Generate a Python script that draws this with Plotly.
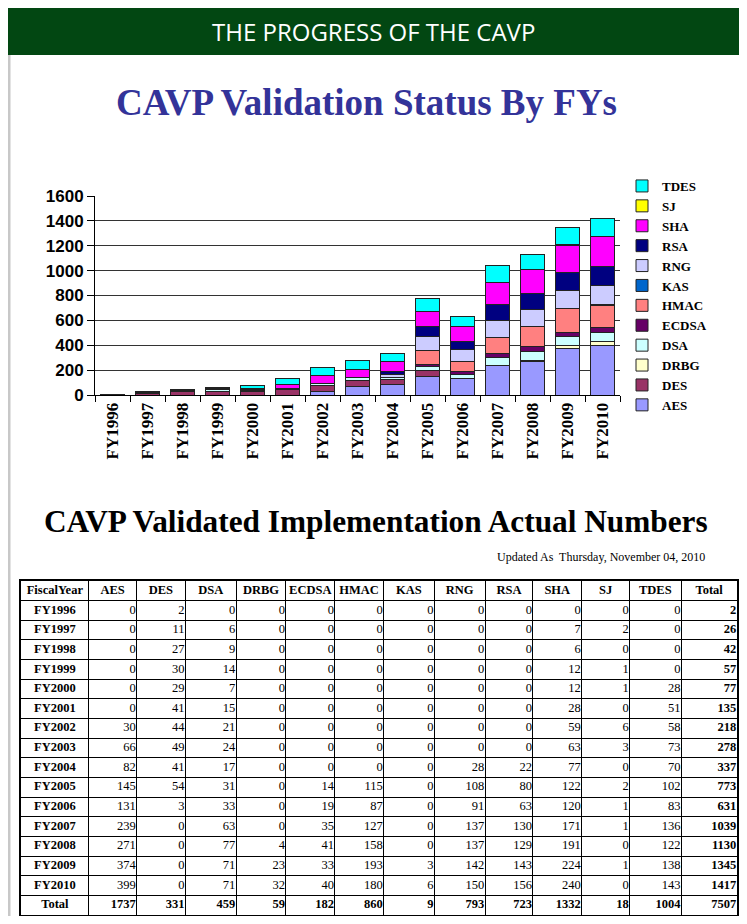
import plotly.graph_objects as go

# page is rendered with an 8px body margin -> figure fills the rest of the 747x924 window
M = 8
FW, FH = 747 - 2 * M, 924 - 2 * M
def px(x): return (x - M) / FW          # page pixel -> paper x
def py(y): return 1 - (y - M) / FH      # page pixel -> paper y
def clamp(v): return min(1.0, max(0.0, v))

years = ["FY1996","FY1997","FY1998","FY1999","FY2000","FY2001","FY2002","FY2003",
         "FY2004","FY2005","FY2006","FY2007","FY2008","FY2009","FY2010"]
AES   = [0,0,0,0,0,0,30,66,82,145,131,239,271,374,399]
DES   = [2,11,27,30,29,41,44,49,41,54,3,0,0,0,0]
DSA   = [0,6,9,14,7,15,21,24,17,31,33,63,77,71,71]
DRBG  = [0,0,0,0,0,0,0,0,0,0,0,0,4,23,32]
ECDSA = [0,0,0,0,0,0,0,0,0,14,19,35,41,33,40]
HMAC  = [0,0,0,0,0,0,0,0,0,115,87,127,158,193,180]
KAS   = [0,0,0,0,0,0,0,0,0,0,0,0,0,3,6]
RNG   = [0,0,0,0,0,0,0,0,28,108,91,137,137,142,150]
RSA   = [0,0,0,0,0,0,0,0,22,80,63,130,129,143,156]
SHA   = [0,7,6,12,12,28,59,63,77,122,120,171,191,224,240]
SJ    = [0,2,0,1,1,0,6,3,0,2,1,1,0,1,0]
TDES  = [0,0,0,0,28,51,58,73,70,102,83,136,122,138,143]
TOTAL = [2,26,42,57,77,135,218,278,337,773,631,1039,1130,1345,1417]
COL_TOTALS = [1737,331,459,59,182,860,9,793,723,1332,18,1004,7507]

# stacking order (bottom -> top)
stack_names = ["AES","DES","DRBG","DSA","ECDSA","HMAC","KAS","RNG","RSA","SHA","SJ","TDES"]
stack_vals = [AES,DES,DRBG,DSA,ECDSA,HMAC,KAS,RNG,RSA,SHA,SJ,TDES]
stack_colors = ["#9999FF","#993366","#FFFFCC","#CCFFFF","#660066","#FF8080",
                "#0066CC","#CCCCFF","#000080","#FF00FF","#FFFF00","#00FFFF"]

# table columns
table_cols = ["FiscalYear","AES","DES","DSA","DRBG","ECDSA","HMAC","KAS","RNG","RSA","SHA","SJ","TDES","Total"]
table_series = [AES,DES,DSA,DRBG,ECDSA,HMAC,KAS,RNG,RSA,SHA,SJ,TDES,TOTAL]
col_widths = [68,48,49,51,50,49,49,51,51,48,49,48,52,56]

fig = go.Figure()
for name, vals, col in zip(stack_names, stack_vals, stack_colors):
    fig.add_trace(go.Bar(
        x=years, y=vals, name=name, legendgroup=name,
        marker=dict(color=col, line=dict(color="#222222", width=1)),
        xaxis="x", yaxis="y", hoverinfo="x+y+name"))

# ---- table drawn on its own axes (x2 / y2) ----
edges = [0]
for w in col_widths:
    edges.append(edges[-1] + w)
centers = [(edges[i] + edges[i + 1]) / 2 for i in range(len(col_widths))]
n_rows = len(years) + 2  # header + years + total

def tfont():
    return dict(family="Liberation Serif", size=12.5, color="#000000")

def text_trace(xs, ys, texts, pos):
    return go.Scatter(
        x=xs, y=ys, mode="text", text=texts, textposition=pos,
        textfont=tfont(), marker=dict(size=2, color="#000000", opacity=0),
        xaxis="x2", yaxis="y2", showlegend=False, hoverinfo="skip",
        cliponaxis=False)

# header row
fig.add_trace(text_trace(centers, [0.5] * len(table_cols),
                         ["<b>%s</b>" % c for c in table_cols], "middle center"))
# fiscal year column
row_labels = years + ["Total"]
fig.add_trace(text_trace([centers[0]] * len(row_labels),
                         [i + 1.5 for i in range(len(row_labels))],
                         ["<b>%s</b>" % r for r in row_labels], "middle center"))
# numeric columns
for j, s in enumerate(table_series):
    col_idx = j + 1
    tot = COL_TOTALS[j]
    is_total_col = (col_idx == len(table_cols) - 1)
    texts = [("<b>%d</b>" % v) if is_total_col else str(v) for v in s] + ["<b>%d</b>" % tot]
    fig.add_trace(text_trace([edges[col_idx + 1] - 0.8] * len(texts),
                             [i + 1.5 for i in range(len(texts))],
                             texts, "middle left"))

shapes = [
    dict(type="rect", xref="paper", yref="paper", x0=px(7), x1=px(755), y0=py(55), y1=py(7),
         line=dict(width=0), fillcolor="#024712", layer="below"),
    dict(type="line", xref="paper", yref="paper", x0=px(9), x1=px(9), y0=py(55), y1=py(940),
         line=dict(color="#c8c8c8", width=3), layer="below"),
    dict(type="line", xref="paper", yref="paper", x0=px(742), x1=px(742), y0=py(55), y1=py(940),
         line=dict(color="#c8c8c8", width=3), layer="below"),
]

annotations = [
    dict(text="THE PROGRESS OF THE CAVP", xref="paper", yref="paper", x=px(373), y=py(31),
         xanchor="center", yanchor="middle", showarrow=False,
         font=dict(family="Open Sans", size=24, color="white")),
    dict(text="<b>CAVP Validation Status By FYs</b>", xref="paper", yref="paper", x=px(366), y=py(103),
         xanchor="center", yanchor="middle", showarrow=False,
         font=dict(family="Liberation Serif", size=37, color="#333399")),
    dict(text="<b>CAVP Validated Implementation Actual Numbers</b>", xref="paper", yref="paper",
         x=px(376), y=py(521), xanchor="center", yanchor="middle", showarrow=False,
         font=dict(family="Liberation Serif", size=31.3, color="black")),
    dict(text="Updated As  Thursday, November 04, 2010", xref="paper", yref="paper",
         x=px(707), y=py(557), xanchor="right", yanchor="middle", showarrow=False,
         font=dict(family="Liberation Serif", size=12, color="black")),
]

fig.update_layout(
    width=FW, height=FH, margin=dict(l=0, r=0, t=0, b=0, autoexpand=False),
    paper_bgcolor="white", plot_bgcolor="white",
    barmode="stack", bargap=0.31,
    showlegend=True,
    legend=dict(x=px(622), y=py(171), xanchor="left", yanchor="top",
                traceorder="reversed", tracegroupgap=1.7, itemwidth=30,
                font=dict(family="Liberation Serif", size=13, color="black", weight="bold"),
                bgcolor="rgba(0,0,0,0)"),
    xaxis=dict(domain=[clamp(px(95)), clamp(px(620))], type="category", automargin=False,
               tickangle=-90, ticks="outside", tickson="boundaries", ticklen=6,
               tickcolor="black", showline=True, linecolor="black", linewidth=1,
               showgrid=False, fixedrange=True,
               tickfont=dict(family="Liberation Serif", size=17, color="black", weight="bold")),
    yaxis=dict(domain=[clamp(py(395)), clamp(py(196))], range=[0, 1600], dtick=200, automargin=False,
               ticks="outside", ticklen=7, tickcolor="black",
               showline=True, linecolor="black", linewidth=1, fixedrange=True,
               showgrid=True, gridcolor="#333333", gridwidth=1, zeroline=False,
               tickfont=dict(family="Liberation Sans", size=17, color="black", weight="bold")),
    xaxis2=dict(domain=[clamp(px(21)), clamp(px(737))], range=[0, edges[-1]], anchor="y2",
                tickmode="array", tickvals=edges, showticklabels=False, ticks="",
                showgrid=True, gridcolor="black", gridwidth=1, zeroline=False,
                showline=True, mirror=True, linecolor="black", linewidth=1.5,
                automargin=False, fixedrange=True),
    yaxis2=dict(domain=[clamp(py(915)), clamp(py(581))], range=[n_rows, 0], anchor="x2",
                tickmode="array", tickvals=list(range(n_rows + 1)), showticklabels=False, ticks="",
                showgrid=True, gridcolor="black", gridwidth=1, zeroline=False,
                showline=True, mirror=True, linecolor="black", linewidth=1.5,
                automargin=False, fixedrange=True),
    shapes=shapes, annotations=annotations,
)

fig.write_html("out.html")
